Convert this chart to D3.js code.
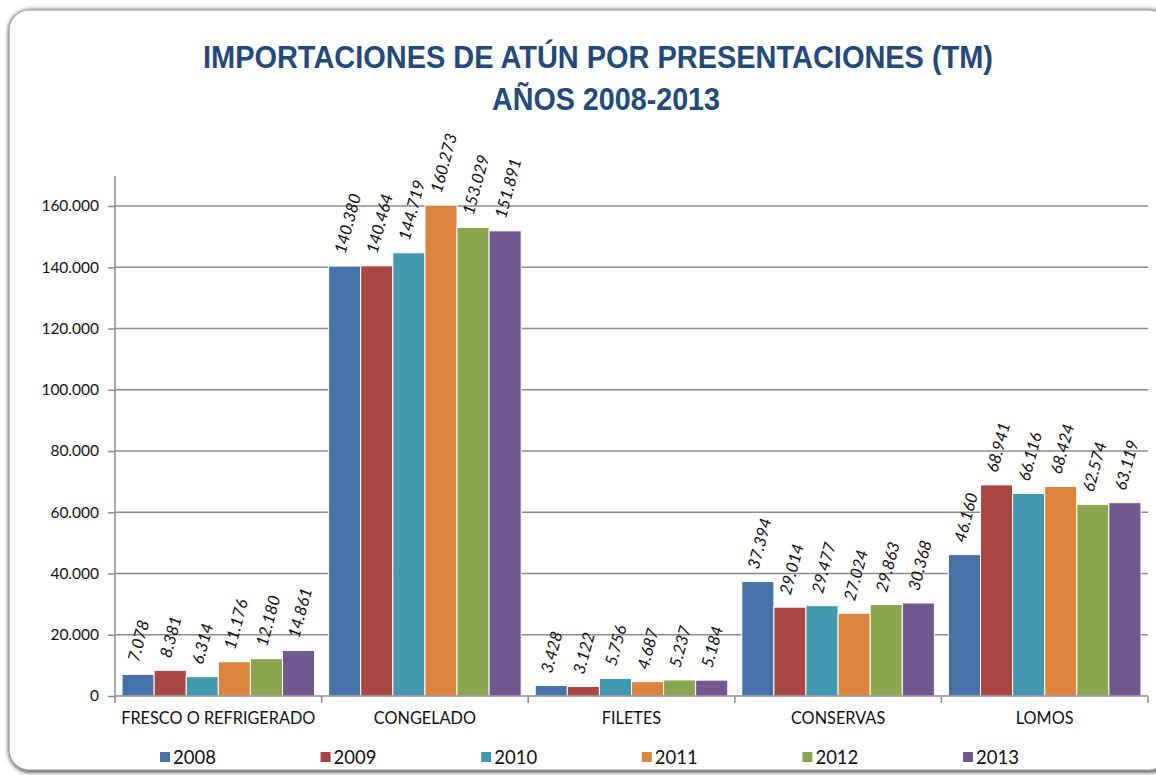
<!DOCTYPE html>
<html>
<head>
<meta charset="utf-8">
<script src="https://cdn.jsdelivr.net/npm/d3@7"></script>
<style>
  body { margin: 0; background: #fff; }
  svg { display: block; }
</style>
</head>
<body>
<div id="chart"></div>
<script>
// chart data
const categories = ["FRESCO O REFRIGERADO", "CONGELADO", "FILETES", "CONSERVAS", "LOMOS"];
const years = ["2008", "2009", "2010", "2011", "2012", "2013"];
const v2008 = [7078, 140380, 3428, 37394, 46160];
const v2009 = [8381, 140464, 3122, 29014, 68941];
const v2010 = [6314, 144719, 5756, 29477, 66116];
const v2011 = [11176, 160273, 4687, 27024, 68424];
const v2012 = [12180, 153029, 5237, 29863, 62574];
const v2013 = [14861, 151891, 5184, 30368, 63119];
const yTicks = [0, 20000, 40000, 60000, 80000, 100000, 120000, 140000, 160000];
const colors = ["#4572A7", "#AA4643", "#4198AF", "#DB843D", "#89A54E", "#71588F"];

const seriesValues = [v2008, v2009, v2010, v2011, v2012, v2013];

let width = 1156, height = 775;
let margin = { top: 176, bottom: 79, left: 115, right: 8 };

const locale = d3.formatLocale({ decimal: ",", thousands: ".", grouping: [3], currency: ["", ""] });
const fmt = locale.format(",d");

let svg = d3.select("#chart")
  .append("svg")
  .attr("width", width)
  .attr("height", height);

// frame with shadow
let defs = svg.append("defs");
let shadow = defs.append("filter").attr("id", "shadow")
  .attr("x", "-5%").attr("y", "-5%").attr("width", "110%").attr("height", "110%");
shadow.append("feGaussianBlur").attr("in", "SourceAlpha").attr("stdDeviation", 2.5);
shadow.append("feOffset").attr("dx", 1).attr("dy", 1).attr("result", "b");
let merge = shadow.append("feMerge");
merge.append("feMergeNode").attr("in", "b");
merge.append("feMergeNode").attr("in", "SourceGraphic");

svg.append("rect")
  .attr("x", 9).attr("y", 10)
  .attr("width", 1160).attr("height", 760)
  .attr("rx", 20).attr("ry", 20)
  .attr("fill", "#fff")
  .attr("stroke", "#9a9a9a")
  .attr("stroke-width", 1.2)
  .attr("filter", "url(#shadow)");

// title
let title = svg.append("g")
  .attr("font-family", "'Liberation Sans Narrow', 'Liberation Sans', Arial, sans-serif")
  .attr("font-weight", "bold")
  .attr("fill", "#24497C")
  .attr("text-anchor", "middle");
title.append("text")
  .attr("x", 598).attr("y", 68)
  .attr("font-size", 31)
  .attr("textLength", 790).attr("lengthAdjust", "spacingAndGlyphs")
  .text("IMPORTACIONES DE ATÚN POR PRESENTACIONES (TM)");
title.append("text")
  .attr("x", 606).attr("y", 110)
  .attr("font-size", 31)
  .attr("textLength", 228).attr("lengthAdjust", "spacingAndGlyphs")
  .text("AÑOS 2008-2013");

// scales
let x0 = d3.scaleBand()
  .domain(categories)
  .range([margin.left, width - margin.right])
  .paddingInner(0.068)
  .paddingOuter(0.034);
let x1 = d3.scaleBand()
  .domain(years)
  .range([0, x0.bandwidth()]);
let y = d3.scaleLinear()
  .domain([0, 160000])
  .range([height - margin.bottom, 206]);

let plotRight = width - margin.right;

// gridlines
svg.append("g")
  .selectAll("line")
  .data(yTicks.slice(1))
  .join("line")
    .attr("x1", margin.left).attr("x2", plotRight)
    .attr("y1", d => y(d)).attr("y2", d => y(d))
    .attr("stroke", "#8c8c8c")
    .attr("stroke-width", 1.5);

// y axis
let yAxis = svg.append("g")
  .attr("transform", `translate(${margin.left},0)`)
  .call(d3.axisLeft(y).tickValues(yTicks).tickFormat(fmt).tickSize(7).tickPadding(9));
yAxis.select(".domain").attr("stroke", "#8c8c8c").attr("stroke-width", 1.5)
  .attr("d", `M0,${y(0)}V176`);
yAxis.selectAll(".tick line").attr("stroke", "#8c8c8c").attr("stroke-width", 1.5);
yAxis.selectAll("text")
  .attr("font-family", "Lato, 'Open Sans', sans-serif")
  .attr("font-size", 15.5)
  .attr("fill", "#111");

// bars
let groups = svg.append("g")
  .selectAll("g")
  .data(categories)
  .join("g")
    .attr("transform", d => `translate(${x0(d)},0)`);

groups.selectAll("rect")
  .data((c, i) => years.map((yr, k) => ({ yr, k, value: seriesValues[k][i] })))
  .join("rect")
    .attr("x", d => x1(d.yr))
    .attr("y", d => y(d.value))
    .attr("width", x1.bandwidth())
    .attr("height", d => y(0) - y(d.value))
    .attr("fill", d => colors[d.k])
    .attr("stroke", "#fff")
    .attr("stroke-width", 1);

// value labels
groups.selectAll("text")
  .data((c, i) => years.map((yr, k) => ({ yr, k, value: seriesValues[k][i] })))
  .join("text")
    .attr("transform", d => `translate(${x1(d.yr) + x1.bandwidth() / 2 - 5},${y(d.value) - 13}) rotate(-75)`)
    .attr("dy", "0.35em")
    .attr("font-family", "Lato, 'Open Sans', sans-serif")
    .attr("font-style", "italic")
    .attr("font-size", 16.5)
    .attr("fill", "#111")
    .text(d => fmt(d.value));

// x axis
let xAxis = svg.append("g")
  .attr("transform", `translate(0,${y(0)})`);
xAxis.append("line")
  .attr("x1", margin.left).attr("x2", plotRight)
  .attr("stroke", "#8c8c8c").attr("stroke-width", 1.5);
let edges = categories.map(c => x0(c) - x0.step() * x0.paddingInner() / 2);
edges.push(plotRight);
xAxis.selectAll(".edge")
  .data(edges)
  .join("line")
    .attr("class", "edge")
    .attr("x1", d => d).attr("x2", d => d)
    .attr("y1", 0).attr("y2", 7)
    .attr("stroke", "#8c8c8c").attr("stroke-width", 1.5);
xAxis.selectAll("text")
  .data(categories)
  .join("text")
    .attr("x", d => x0(d) + x0.bandwidth() / 2)
    .attr("y", 28)
    .attr("text-anchor", "middle")
    .attr("font-family", "Lato, 'Open Sans', sans-serif")
    .attr("font-size", 16.3)
    .attr("fill", "#111")
    .text(d => d);

// legend
let legend = svg.append("g")
  .attr("font-family", "Lato, 'Open Sans', sans-serif")
  .attr("font-size", 18.5)
  .attr("fill", "#111");
let legendX = d3.scalePoint().domain(years).range([160, 963]);
let item = legend.selectAll("g")
  .data(years)
  .join("g")
    .attr("transform", d => `translate(${legendX(d)},752)`);
item.append("rect")
  .attr("width", 10).attr("height", 10)
  .attr("fill", (d, i) => colors[i]);
item.append("text")
  .attr("x", 13).attr("y", 5).attr("dy", "0.36em")
  .text(d => d);
</script>
</body>
</html>
